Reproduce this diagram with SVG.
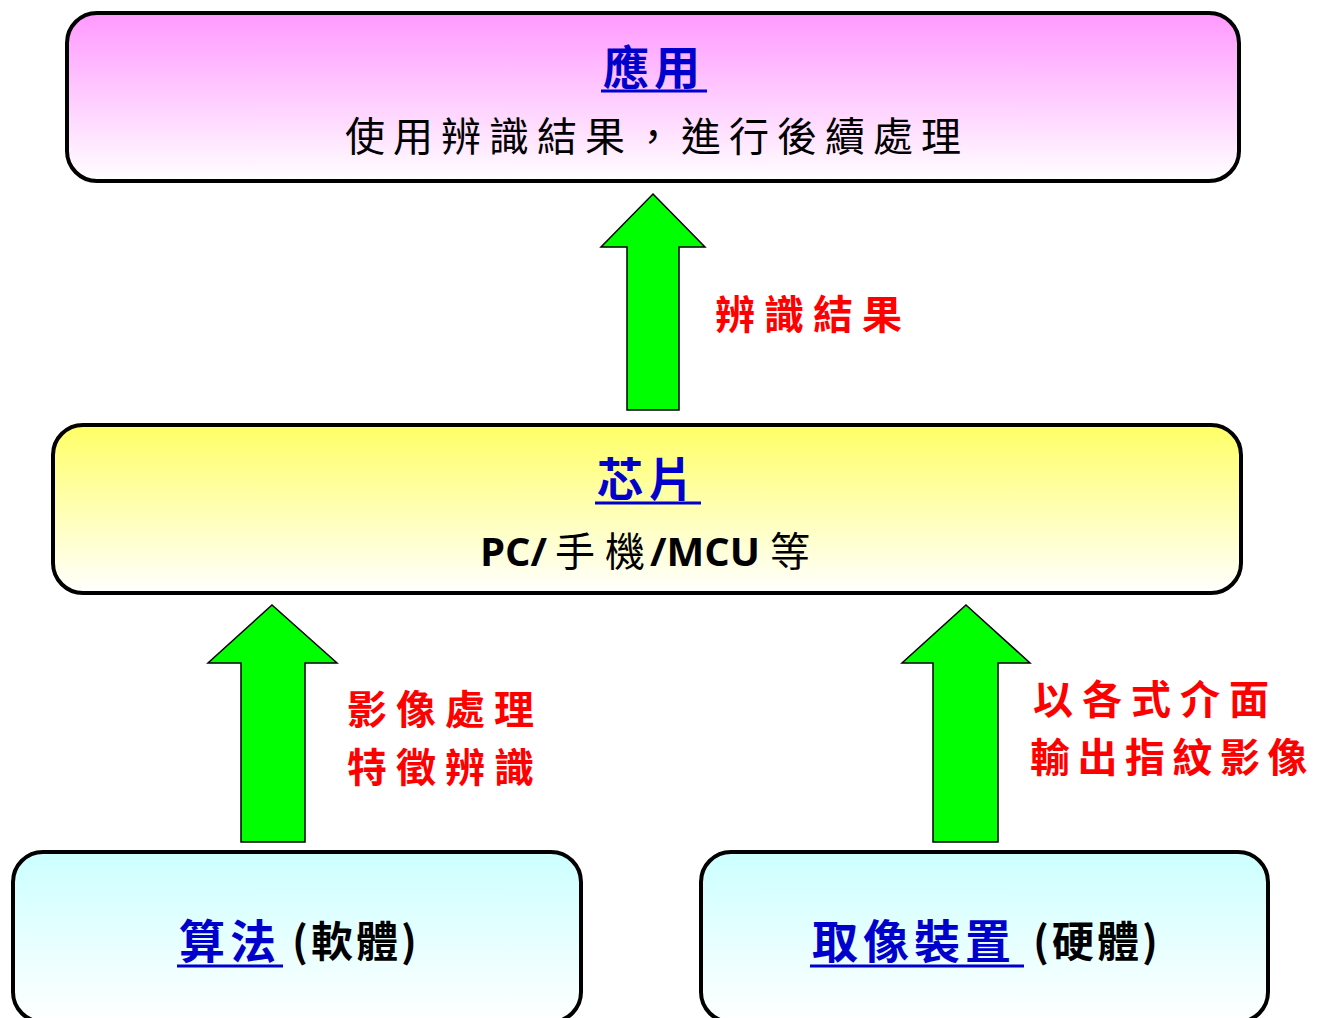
<svg xmlns="http://www.w3.org/2000/svg" width="1319" height="1018" viewBox="0 0 1319 1018">
<defs>
<linearGradient id="gPink" x1="0" y1="0" x2="0" y2="1"><stop offset="0" stop-color="#ff99ff"/><stop offset="1" stop-color="#ffffff"/></linearGradient>
<linearGradient id="gYellow" x1="0" y1="0" x2="0" y2="1"><stop offset="0" stop-color="#ffff66"/><stop offset="1" stop-color="#ffffff"/></linearGradient>
<linearGradient id="gCyan" x1="0" y1="0" x2="0" y2="1"><stop offset="0" stop-color="#ccffff"/><stop offset="1" stop-color="#ffffff"/></linearGradient>
</defs>
<style>
.box{stroke:#000;stroke-width:4}
.arrow{fill:#00ff00;stroke:#000;stroke-width:1.5;stroke-linejoin:miter}
.cjk{font-family:"Noto Sans CJK TC","Noto Sans CJK SC",sans-serif}
.title{font-size:46px;fill:#0000cc;font-weight:bold;letter-spacing:5px}
.sub{font-size:40px;fill:#000;letter-spacing:8px}
.red{font-size:40px;fill:#ff0000;font-weight:bold;letter-spacing:9px}
.lat{font-family:"Open Sans","Noto Sans",sans-serif;font-weight:bold;font-size:40px;fill:#000}
.ul{stroke:#0000cc;stroke-width:3}
.paren{font-size:42px;font-weight:bold;fill:#000;letter-spacing:3px}
</style>
<rect width="1319" height="1018" fill="#fff"/>
<g id="connectors">
<polygon class="arrow" points="653,194 705,247 679,247 679,410 627,410 627,247 601,247"/>
<polygon class="arrow" points="272,605 337,663 305,663 305,842 241,842 241,663 208,663"/>
<polygon class="arrow" points="966,605 1030,663 998,663 998,842 933,842 933,663 902,663"/>
<text class="cjk red" x="715" y="329">辨識結果</text>
<text class="cjk red" x="347" y="724">影像處理</text>
<text class="cjk red" x="347" y="782">特徵辨識</text>
<text class="cjk red" x="1033" y="714">以各式介面</text>
<text class="cjk red" x="1030" y="772" style="letter-spacing:7.5px">輸出指紋影像</text>
</g>
<g id="node-app">
<rect class="box" x="67" y="13" width="1172" height="168" rx="30" fill="url(#gPink)"/>
<text class="cjk title" x="603" y="84">應用</text>
<line class="ul" x1="601" y1="91" x2="707" y2="91"/>
<text class="cjk sub" x="345" y="151">使用辨識結果，進行後續處理</text>
</g>
<g id="node-chip">
<rect class="box" x="53" y="425" width="1188" height="168" rx="30" fill="url(#gYellow)"/>
<text class="cjk title" x="597" y="496">芯片</text>
<line class="ul" x1="595" y1="503" x2="701" y2="503"/>
<text y="566"><tspan class="lat" x="480">PC/</tspan><tspan class="cjk" font-size="40" x="555">手</tspan><tspan class="cjk" font-size="40" x="605">機</tspan><tspan class="lat" x="650">/MCU</tspan><tspan class="cjk" font-size="40" x="770">等</tspan></text>
</g>
<g id="node-algo">
<rect class="box" x="13" y="852" width="568" height="170" rx="30" fill="url(#gCyan)"/>
<text class="cjk title" x="179" y="958">算法</text>
<line class="ul" x1="177" y1="966" x2="283" y2="966"/>
<text class="cjk paren" x="292" y="957">(軟體)</text>
</g>
<g id="node-device">
<rect class="box" x="701" y="852" width="567" height="170" rx="30" fill="url(#gCyan)"/>
<text class="cjk title" x="812" y="958">取像裝置</text>
<line class="ul" x1="810" y1="966" x2="1024" y2="966"/>
<text class="cjk paren" x="1033" y="957">(硬體)</text>
</g>
</svg>
